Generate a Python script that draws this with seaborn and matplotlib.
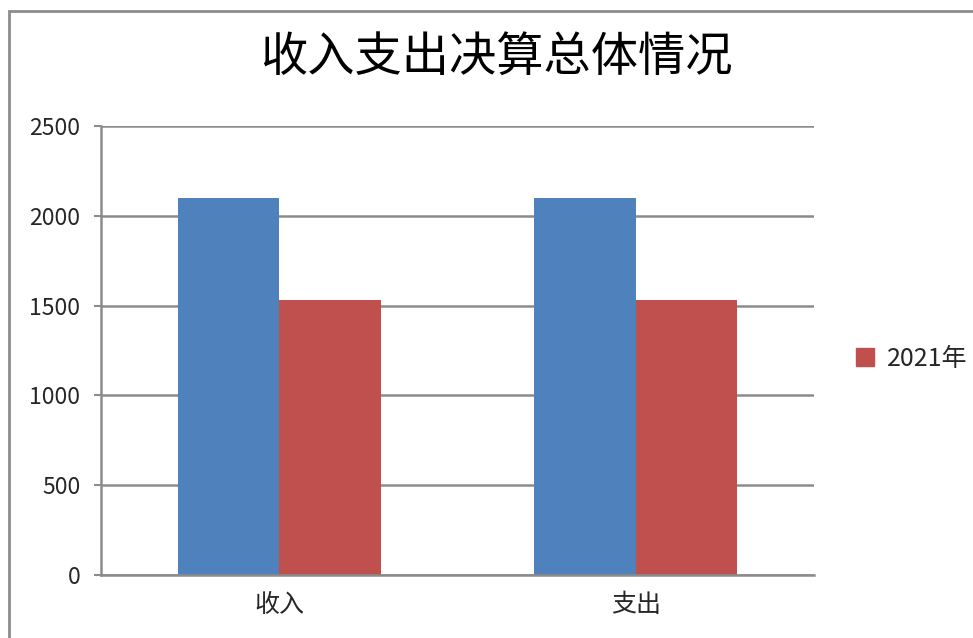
import matplotlib
matplotlib.use("Agg")
import matplotlib.pyplot as plt
import matplotlib.patches as mpatches
import seaborn as sns
import pandas as pd

categories = ["收入", "支出"]
series_names = ["", "2021年"]
values_blue = [2100, 2100]
values_red = [1530, 1530]
yticks = [0, 500, 1000, 1500, 2000, 2500]
title = "收入支出决算总体情况"

sns.set_theme(style="white")
plt.rcParams['font.family'] = ['Noto Sans CJK SC', 'DejaVu Sans']

df = pd.DataFrame({
    "category": categories * 2,
    "series": [series_names[0]] * len(categories) + [series_names[1]] * len(categories),
    "value": values_blue + values_red,
})

fig = plt.figure(figsize=(9.73, 6.38), dpi=100)
ax = fig.add_axes([101/973, 1 - 575/638, (814-101)/973, (575-126)/638])

palette = {series_names[0]: "#4F81BD", series_names[1]: "#C0504D"}
sns.barplot(data=df, x="category", y="value", hue="series", palette=palette,
            width=0.57, ax=ax, saturation=1, legend=False, linewidth=0)

ax.set_ylim(0, 2500)
ax.set_xlim(-0.5, 1.5)
ax.set_yticks(yticks)
ax.set_yticklabels([str(t) for t in yticks], fontsize=16.5)
ax.tick_params(axis='x', labelsize=18, length=0, pad=12)
ax.tick_params(axis='y', length=5, width=1.5, color="#8c8c8c", left=True, pad=10, direction='out')
ax.set_xlabel("")
ax.set_ylabel("")
ax.yaxis.grid(True, color="#8c8c8c", linewidth=1.8)
ax.set_axisbelow(True)
for s in ["top", "right"]:
    ax.spines[s].set_visible(False)
for s in ["left", "bottom"]:
    ax.spines[s].set_color("#8c8c8c")
    ax.spines[s].set_linewidth(1.8)

fig.text(496/973, 1 - 58/638, title, fontsize=34, ha="center", va="center", color="black")

handle = mpatches.Patch(color="#C0504D", label=series_names[1])
fig.legend(handles=[handle], loc="center left", bbox_to_anchor=(833/973, 1 - 359/638),
           frameon=False, fontsize=18, handlelength=0.75, handleheight=0.75, handletextpad=0.5)

# outer chart border
border = mpatches.Rectangle((9/973, -0.05), 1.1, 1 - 11/638 + 0.05, transform=fig.transFigure,
                            fill=False, edgecolor="#8c8c8c", linewidth=2, clip_on=False)
fig.patches.append(border)

fig.savefig("out.png", dpi=100)
